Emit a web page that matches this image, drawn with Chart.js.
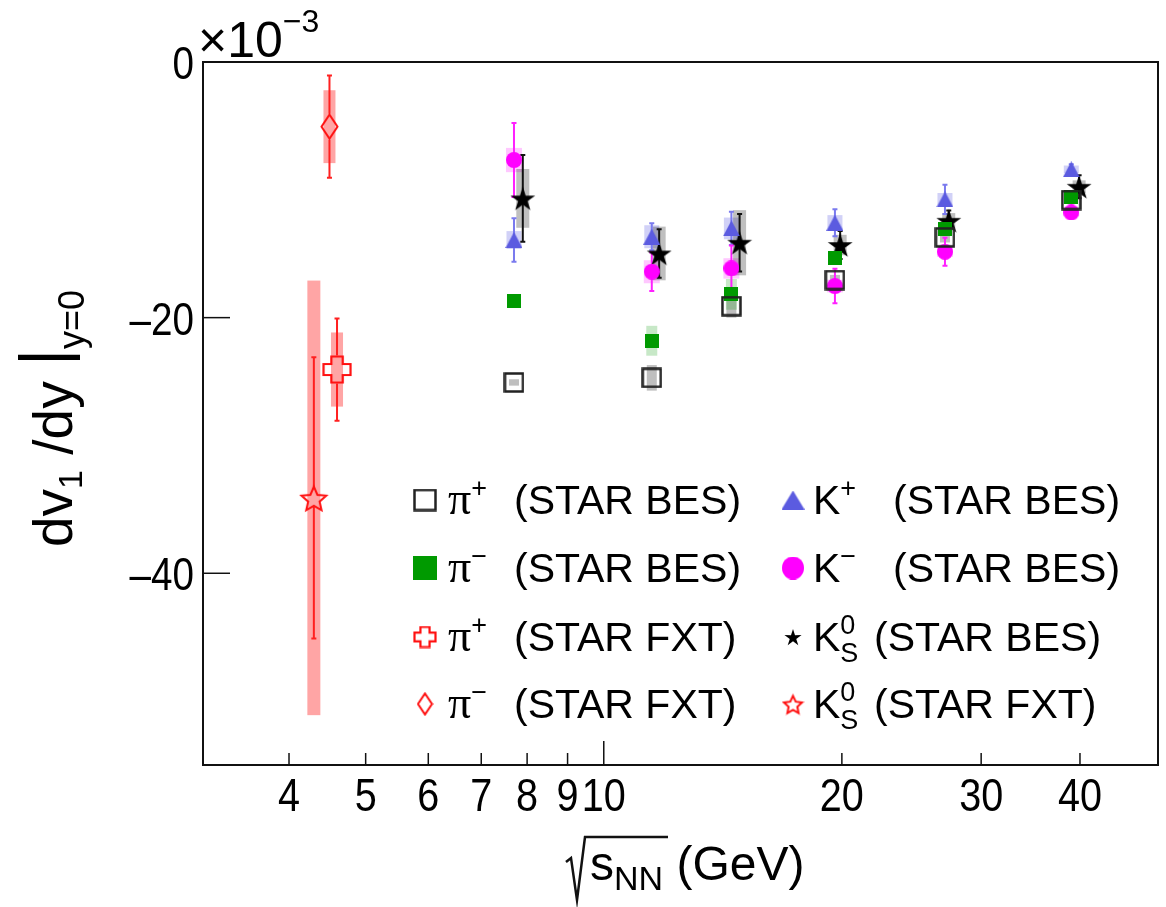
<!DOCTYPE html>
<html>
<head>
<meta charset="utf-8">
<script src="https://cdn.jsdelivr.net/npm/chart.js@4.4.1/dist/chart.umd.min.js"></script>
<style>
  html, body { margin: 0; padding: 0; background: #fff; }
  #wrap { width: 1166px; height: 907px; }
</style>
</head>
<body>
<div id="wrap"><canvas id="grafico" width="1166" height="907"></canvas></div>
<script>
// collision energies (GeV)
const besEnergy = [7.7, 11.5, 14.5, 19.6, 27, 39];
const k0sBesEnergy = [7.9, 11.75, 14.85, 19.9, 27.3, 39.9];

// dv1/dy at y=0, units of 1e-3
const pipBes = [-25.07, -24.71, -19.1, -17.06, -13.72, -10.8];
const pipBesStat = [0, 0, 0, 0, 0, 0];
const pipBesSys = [0.25, 1.0, 0.9, 0.4, 0.4, 0.3];

const pimBes = [-18.68, -21.81, -18.18, -15.32, -13.07, -10.59];
const pimBesStat = [0, 0, 0, 0, 0, 0];
const pimBesSys = [0.35, 1.17, 1.2, 0.4, 0.4, 0.3];

const kpBes = [-13.93, -13.67, -13.02, -12.58, -10.75, -8.4];
const kpBesStat = [1.7, 1.05, 1.3, 1.05, 1.15, 0.4];
const kpBesSys = [0.7, 0.9, 0.85, 0.6, 0.5, 0.3];

const kmBes = [-7.67, -16.41, -16.15, -17.53, -14.85, -11.77];
const kmBesStat = [2.9, 1.5, 1.8, 1.35, 1.1, 0.5];
const kmBesSys = [0.95, 0.9, 0.8, 0.5, 0.4, 0.3];

const k0sBes = [-10.67, -14.98, -14.14, -14.32, -12.42, -9.76];
const k0sBesStat = [3.4, 1.9, 2.25, 1.1, 0.8, 0.9];
const k0sBesSys = [2.3, 2.1, 2.55, 0.8, 0.6, 0.5];

// fixed-target points
const pipFxtEnergy = [4.6];
const pipFxt = [-24.06];
const pipFxtStat = [4.0];
const pipFxtSys = [2.9];

const pimFxtEnergy = [4.5];
const pimFxt = [-5.06];
const pimFxtStat = [4.0];
const pimFxtSys = [2.85];

const k0sFxtEnergy = [4.3];
const k0sFxt = [-34.1];
const k0sFxtStat = [11.0];
const k0sFxtSys = [17.0];

const xTickValues = [4, 5, 6, 7, 8, 9, 10, 20, 30, 40];
const yTickValues = [0, -20, -40];

const FONT = '"Liberation Sans", Arial, Helvetica, sans-serif';
const SERIF = '"Liberation Serif", "Times New Roman", serif';

// ---------- marker sprites ----------
function sprite(w, h, draw) {
  const c = document.createElement('canvas');
  c.width = w; c.height = h;
  draw(c.getContext('2d'), w, h);
  return c;
}

function starPath(g, cx, cy, R, r) {
  g.beginPath();
  for (let k = 0; k < 10; k++) {
    const rad = k % 2 ? r : R;
    const a = -Math.PI / 2 + k * Math.PI / 5;
    const px = cx + rad * Math.cos(a), py = cy + rad * Math.sin(a);
    if (k) g.lineTo(px, py); else g.moveTo(px, py);
  }
  g.closePath();
}

function crossPath(g, w, h, arm) {
  const cx = w / 2, cy = h / 2, ax = w * arm / 2, ay = h * arm / 2;
  const x0 = 1.5, x1 = w - 1.5, y0 = 1.5, y1 = h - 1.5;
  g.beginPath();
  g.moveTo(cx - ax, y0); g.lineTo(cx + ax, y0); g.lineTo(cx + ax, cy - ay);
  g.lineTo(x1, cy - ay); g.lineTo(x1, cy + ay); g.lineTo(cx + ax, cy + ay);
  g.lineTo(cx + ax, y1); g.lineTo(cx - ax, y1); g.lineTo(cx - ax, cy + ay);
  g.lineTo(x0, cy + ay); g.lineTo(x0, cy - ay); g.lineTo(cx - ax, cy - ay);
  g.closePath();
}

const mk = {
  openSquare: (w, h) => sprite(w, h, (g) => {
    g.strokeStyle = '#222'; g.lineWidth = 2.5; g.strokeRect(1.5, 1.5, w - 3, h - 3);
  }),
  fullSquare: (w, h) => sprite(w, h, (g) => {
    g.fillStyle = '#009a00'; g.fillRect(0, 0, w, h);
  }),
  triangle: (w, h) => sprite(w, h, (g) => {
    g.fillStyle = '#5b5be0';
    g.beginPath(); g.moveTo(w / 2, 0); g.lineTo(w, h); g.lineTo(0, h); g.closePath(); g.fill();
  }),
  circle: (w, h) => sprite(w, h, (g) => {
    g.fillStyle = '#ff00ff';
    g.beginPath(); g.ellipse(w / 2, h / 2, w / 2, h / 2, 0, 0, Math.PI * 2); g.fill();
  }),
  fullStar: (s) => sprite(s, s, (g) => {
    g.fillStyle = '#000'; starPath(g, s / 2, s / 2 + s * 0.05, s / 2, s * 0.19); g.fill();
  }),
  openStar: (s) => sprite(s, s, (g) => {
    g.strokeStyle = '#ff1010'; g.lineWidth = 2; g.lineJoin = 'miter';
    starPath(g, s / 2, s / 2 + s * 0.06, s / 2 - 2, s * 0.2); g.stroke();
  }),
  openCross: (w, h) => sprite(w, h, (g) => {
    g.strokeStyle = '#ff1010'; g.lineWidth = 2.2; crossPath(g, w, h, 0.38); g.stroke();
  }),
  openDiamond: (w, h) => sprite(w, h, (g) => {
    g.strokeStyle = '#ff1010'; g.lineWidth = 2;
    g.beginPath(); g.moveTo(w / 2, 1.5); g.lineTo(w - 1.5, h / 2); g.lineTo(w / 2, h - 1.5);
    g.lineTo(1.5, h / 2); g.closePath(); g.stroke();
  })
};

function pts(xs, ys) {
  return xs.map((x, i) => ({ x: x, y: ys[i] }));
}

function serie(label, xs, ys, stat, sys, style, o) {
  return Object.assign({
    label: label,
    data: pts(xs, ys),
    stat: stat,
    sys: sys,
    pointStyle: style,
    pointRadius: 6,
    pointHoverRadius: 6,
    boxW: 14,
    gap: 0
  }, o);
}

const datasets = [
  serie('π+ (STAR FXT)', pipFxtEnergy, pipFxt, pipFxtStat, pipFxtSys, mk.openCross(30, 29),
    { sysColor: 'rgba(255,40,40,0.42)', barColor: '#ff2020', boxW: 12, gap: 14 }),
  serie('π− (STAR FXT)', pimFxtEnergy, pimFxt, pimFxtStat, pimFxtSys, mk.openDiamond(19, 27),
    { sysColor: 'rgba(255,40,40,0.42)', barColor: '#ff2020', boxW: 12, gap: 13 }),
  serie('K0S (STAR FXT)', k0sFxtEnergy, k0sFxt, k0sFxtStat, k0sFxtSys, mk.openStar(30),
    { sysColor: 'rgba(255,40,40,0.42)', barColor: '#ff2020', boxW: 13, gap: 9 }),
  serie('π+ (STAR BES)', besEnergy, pipBes, pipBesStat, pipBesSys, mk.openSquare(21, 21),
    { sysColor: 'rgba(0,0,0,0.25)', barColor: '#222', boxW: 10 }),
  serie('π− (STAR BES)', besEnergy, pimBes, pimBesStat, pimBesSys, mk.fullSquare(14, 14),
    { sysColor: 'rgba(0,150,0,0.22)', barColor: '#009a00', boxW: 11 }),
  serie('K+ (STAR BES)', besEnergy, kpBes, kpBesStat, kpBesSys, mk.triangle(17, 16),
    { sysColor: 'rgba(90,90,225,0.28)', barColor: '#7a7aee', boxW: 15 }),
  serie('K− (STAR BES)', besEnergy, kmBes, kmBesStat, kmBesSys, mk.circle(16, 16),
    { sysColor: 'rgba(255,0,255,0.22)', barColor: '#ff20ff', boxW: 16 }),
  serie('K0S (STAR BES)', k0sBesEnergy, k0sBes, k0sBesStat, k0sBesSys, mk.fullStar(26),
    { sysColor: 'rgba(0,0,0,0.25)', barColor: '#111', boxW: 13 })
];

// ---------- systematic boxes and statistical bars ----------
const errorBars = {
  id: 'errorBars',
  beforeDatasetsDraw(chart) {
    const ctx = chart.ctx, ys = chart.scales.y;
    ctx.save();
    chart.data.datasets.forEach((ds, i) => {
      const meta = chart.getDatasetMeta(i);
      meta.data.forEach((pt, j) => {
        const v = ds.data[j].y;
        const s = ds.sys[j];
        const top = ys.getPixelForValue(v + s), bot = ys.getPixelForValue(v - s);
        ctx.fillStyle = ds.sysColor;
        ctx.fillRect(pt.x - ds.boxW / 2, top, ds.boxW, bot - top);
      });
    });
    chart.data.datasets.forEach((ds, i) => {
      const meta = chart.getDatasetMeta(i);
      ctx.strokeStyle = ds.barColor;
      ctx.lineWidth = 2;
      meta.data.forEach((pt, j) => {
        const v = ds.data[j].y;
        const e = ds.stat[j];
        if (!e) return;
        const top = ys.getPixelForValue(v + e), bot = ys.getPixelForValue(v - e);
        ctx.beginPath();
        if (ds.gap) {
          ctx.moveTo(pt.x, top); ctx.lineTo(pt.x, pt.y - ds.gap);
          ctx.moveTo(pt.x, pt.y + ds.gap); ctx.lineTo(pt.x, bot);
        } else {
          ctx.moveTo(pt.x, top); ctx.lineTo(pt.x, bot);
        }
        ctx.moveTo(pt.x - 2.5, top); ctx.lineTo(pt.x + 2.5, top);
        ctx.moveTo(pt.x - 2.5, bot); ctx.lineTo(pt.x + 2.5, bot);
        ctx.stroke();
      });
    });
    ctx.restore();
  }
};

// ---------- text helpers ----------
function runs(ctx, x, y, parts) {
  parts.forEach(p => {
    ctx.font = p.size + 'px ' + (p.family || FONT);
    if (p.x !== undefined) x = p.x;
    ctx.fillText(p.t, x, y + (p.dy || 0));
    if (!p.stack) x += ctx.measureText(p.t).width;
  });
  return x;
}

// narrow axis numbers
function narrowText(ctx, txt, x, y, sx) {
  ctx.save();
  ctx.translate(x, y);
  ctx.scale(sx, 1);
  ctx.fillText(txt, 0, 0);
  ctx.restore();
}

// ---------- frame, ticks, labels, legend ----------
const decor = {
  id: 'decor',
  afterDraw(chart) {
    const ctx = chart.ctx;
    const a = chart.chartArea;
    const xs = chart.scales.x, ys = chart.scales.y;
    ctx.save();
    ctx.fillStyle = '#000';
    ctx.strokeStyle = '#111';

    // frame
    ctx.lineWidth = 2;
    ctx.strokeRect(a.left, a.top, a.right - a.left, a.bottom - a.top);

    // x ticks (inward) and labels
    ctx.lineWidth = 1.5;
    ctx.textAlign = 'center';
    ctx.textBaseline = 'alphabetic';
    ctx.font = '46px ' + FONT;
    xs.ticks.forEach(t => {
      const px = xs.getPixelForValue(t.value);
      const len = t.value === 10 ? 24 : 12;
      ctx.beginPath(); ctx.moveTo(px, a.bottom); ctx.lineTo(px, a.bottom - len); ctx.stroke();
      narrowText(ctx, String(t.value), px, 811, 0.86);
    });

    // y ticks and labels
    ctx.textAlign = 'right';
    ys.ticks.forEach(t => {
      const py = ys.getPixelForValue(t.value);
      ctx.beginPath(); ctx.moveTo(a.left, py); ctx.lineTo(a.left + 27, py); ctx.stroke();
      const lab = t.value < 0 ? '\u2013' + Math.abs(t.value) : String(t.value);
      narrowText(ctx, lab, 194, py + 17, 0.84);
    });

    // exponent
    ctx.textAlign = 'left';
    runs(ctx, 198, 57, [
      { t: '\u00d710', size: 50 },
      { t: '\u22123', size: 32, dy: -25 }
    ]);

    // y title
    ctx.save();
    ctx.translate(72, 547);
    ctx.rotate(-Math.PI / 2);
    runs(ctx, 0, 0, [
      { t: 'dv', size: 55 },
      { t: '1', size: 34, dy: 10 },
      { t: ' /dy ', size: 55 },
      { t: '|', size: 66, dy: -6 },
      { t: 'y=0', size: 36, dy: 12 }
    ]);
    ctx.restore();

    // x title with radical
    const sx = 590;
    ctx.lineWidth = 2.5;
    ctx.beginPath();
    ctx.moveTo(sx - 24, 862); ctx.lineTo(sx - 19, 858);
    ctx.lineTo(sx - 13, 900); ctx.lineTo(sx - 5, 837);
    ctx.lineTo(sx + 78, 837);
    ctx.stroke();
    runs(ctx, sx, 880, [
      { t: 's', size: 48 },
      { t: 'NN', size: 34, dy: 10 },
      { t: ' (GeV)', size: 48 }
    ]);

    // legend
    const rows = [500, 568, 637, 704];
    const leftMarks = [mk.openSquare(24, 23), mk.fullSquare(24, 24), mk.openCross(24, 23), mk.openDiamond(17, 24)];
    const rightMarks = [mk.triangle(23, 19), mk.circle(22, 23), mk.fullStar(18), mk.openStar(23)];
    const leftSup = ['+', '\u2212', '+', '\u2212'];
    const leftTag = ['(STAR BES)', '(STAR BES)', '(STAR FXT)', '(STAR FXT)'];
    const rightTag = ['(STAR BES)', '(STAR BES)', '(STAR BES)', '(STAR FXT)'];
    rows.forEach((cy, r) => {
      const base = cy + 14;
      const lm = leftMarks[r];
      ctx.drawImage(lm, 425 - lm.width / 2, cy - lm.height / 2);
      runs(ctx, 448, base, [
        { t: '\u03c0', size: 46, family: SERIF },
        { t: leftSup[r], size: 27, dy: -17 },
        { t: leftTag[r], size: 41, x: 514 }
      ]);
      const rm = rightMarks[r];
      ctx.drawImage(rm, 793 - rm.width / 2, cy - rm.height / 2);
      if (r < 2) {
        runs(ctx, 813, base, [
          { t: 'K', size: 41 },
          { t: r === 0 ? '+' : '\u2212', size: 27, dy: -17 },
          { t: rightTag[r], size: 41, x: 893 }
        ]);
      } else {
        runs(ctx, 813, base, [
          { t: 'K', size: 41 },
          { t: '0', size: 27, dy: -17, stack: true },
          { t: 'S', size: 27, dy: 11 },
          { t: rightTag[r], size: 41, x: 874 }
        ]);
      }
    });
    ctx.restore();
  }
};

const ctx = document.getElementById('grafico').getContext('2d');
new Chart(ctx, {
  type: 'scatter',
  data: { datasets: datasets },
  options: {
    responsive: false,
    animation: false,
    devicePixelRatio: 1,
    layout: { padding: { left: 203, right: 8, top: 62, bottom: 142 } },
    plugins: { legend: { display: false }, tooltip: { enabled: false } },
    scales: {
      x: {
        type: 'logarithmic',
        min: 3.114,
        max: 50.2,
        ticks: { display: false },
        grid: { display: false },
        border: { display: false },
        afterBuildTicks: s => { s.ticks = xTickValues.map(v => ({ value: v })); },
        afterFit: s => { s.height = 0; }
      },
      y: {
        min: -55,
        max: 0,
        ticks: { display: false },
        grid: { display: false },
        border: { display: false },
        afterBuildTicks: s => { s.ticks = yTickValues.map(v => ({ value: v })); },
        afterFit: s => { s.width = 0; }
      }
    }
  },
  plugins: [errorBars, decor]
});
</script>
</body>
</html>
